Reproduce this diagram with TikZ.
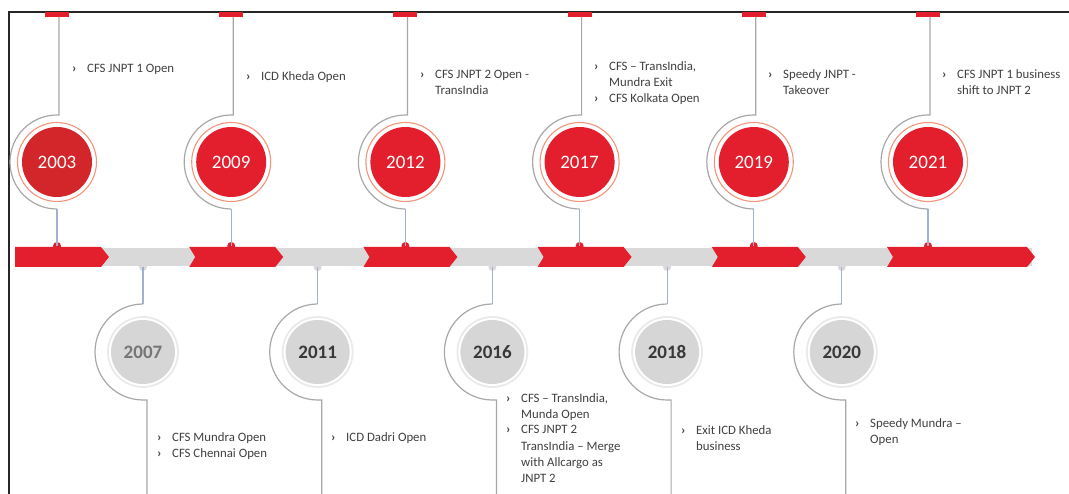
\documentclass[tikz,border=0pt]{standalone}
\usepackage{fontspec}
\setmainfont{Carlito}
\definecolor{tlred}{HTML}{E41F2D}
\definecolor{tlreddark}{HTML}{D2262A}
\definecolor{ringor}{HTML}{F2957A}
\definecolor{band}{HTML}{D9D9D9}
\definecolor{gfill}{HTML}{D6D6D6}
\definecolor{gring}{HTML}{EAEAEA}
\definecolor{arcgray}{HTML}{A8A8A8}
\definecolor{bluish}{HTML}{A3B1D0}
\definecolor{txt}{HTML}{404040}
\definecolor{yeardark}{HTML}{383838}
\definecolor{yearlight}{HTML}{757575}
\newcommand\bul{\makebox[15pt][l]{\textbf{›}}}
\newcommand\ind{\hspace*{15pt}}
\begin{document}
\begin{tikzpicture}[x=1pt,y=-1pt,
  redc/.style={circle, fill=tlred, minimum size=70pt, inner sep=0pt, text=white,
    font=\fontsize{19}{19}\selectfont},
  grayc/.style={circle, fill=gfill, minimum size=64pt, inner sep=0pt, text=yeardark,
    font=\fontsize{19}{19}\selectfont\bfseries},
  ringline/.style={draw=ringor, line width=1.1pt},
  gringline/.style={draw=gring, line width=1.8pt},
  arcline/.style={draw=arcgray, line width=1.2pt},
  conn/.style={draw=bluish, line width=1.1pt},
  desc/.style={anchor=base west, inner sep=0pt, align=left, text=txt,
    font=\fontsize{12.8}{16}\selectfont},
  redseg/.style={fill=tlred},
]
\useasboundingbox (0,0) rectangle (1069,494);
\fill[white] (0,0) rectangle (1069,494);
% frame
\draw[black!85, line width=1.3pt] (9,494) -- (9,12) -- (1069,12);
% gray band
\fill[band] (15,248) rectangle (1032,266);
% red chevrons
\fill[redseg] (15,247) -- (101,247) -- (109,257) -- (101,267) -- (15,267) -- cycle;
\foreach \X in {231.2,405.4,579.6,753.8}{
  \fill[redseg] (\X-42,247) -- (\X+44,247) -- (\X+52,257) -- (\X+44,267) -- (\X-42,267) -- (\X-36,257) -- cycle;
}
\fill[redseg] (887,247) -- (1027,247) -- (1035,257) -- (1027,267) -- (887,267) -- (893,257) -- cycle;
% upper events geometry
\foreach \X [count=\i] in {57,231.2,405.4,579.6,753.8,928}{
  \fill[tlred] (\X-12,12) rectangle (\X+12,17);
  \coordinate (ut\i) at (\X+2,17);
  \coordinate (ua\i) at (\X,115);
  \coordinate (ud\i) at (\X,209);
  \coordinate (ub\i) at (\X,246);
  \fill[tlred] (ub\i) circle[radius=4];
  \draw[arcline] (ut\i) -- (\X+2,115) -- (ua\i) arc[start angle=270, end angle=90, radius=47];
  \draw[conn] (ud\i) -- (ub\i);
  \draw[ringline] (\X,162) circle[radius=39.5];
}
\node[redc, fill=tlreddark] (u1) at (57,162) {2003};
\node[redc] (u2) at (231.2,162) {2009};
\node[redc] (u3) at (405.4,162) {2012};
\node[redc] (u4) at (579.6,162) {2017};
\node[redc] (u5) at (753.8,162) {2019};
\node[redc] (u6) at (928,162) {2021};
% lower events geometry
\foreach \X [count=\i] in {143,317.7,492.4,667.1,841.8}{
  \coordinate (lb\i) at (\X,267);
  \coordinate (la\i) at (\X,304);
  \coordinate (ld\i) at (\X+4,494);
  \fill[band] (lb\i) circle[radius=4];
  \draw[conn] (lb\i) -- (la\i);
  \draw[arcline] (la\i) arc[start angle=270, end angle=90, radius=48] -- (\X+4,400) -- (ld\i);
  \draw[gringline] (\X,352) circle[radius=35];
}
\node[grayc, text=yearlight] (l1) at (143,352) {2007};
\node[grayc] (l2) at (317.7,352) {2011};
\node[grayc] (l3) at (492.4,352) {2016};
\node[grayc] (l4) at (667.1,352) {2018};
\node[grayc] (l5) at (841.8,352) {2020};
% descriptions (anchor = baseline of the last line)
\node[desc] (t1) at (72,73) {\bul CFS JNPT 1 Open};
\node[desc] (t2) at (246,81) {\bul ICD Kheda Open};
\node[desc] (t3) at (420,95) {\bul CFS JNPT 2 Open -\\\ind TransIndia};
\node[desc] (t4) at (594,103) {\bul CFS – TransIndia,\\\ind Mundra Exit\\\bul CFS Kolkata Open};
\node[desc] (t5) at (768,95) {\bul Speedy JNPT -\\\ind Takeover};
\node[desc] (t6) at (942,95) {\bul CFS JNPT 1 business\\\ind shift to JNPT 2};
\node[desc] (b1) at (157,457) {\bul CFS Mundra Open\\\bul CFS Chennai Open};
\node[desc] (b2) at (331,441) {\bul ICD Dadri Open};
\node[desc] (b3) at (506,482) {\bul CFS – TransIndia,\\\ind Munda Open\\\bul CFS JNPT 2\\\ind TransIndia – Merge\\\ind with Allcargo as\\\ind JNPT 2};
\node[desc] (b4) at (681,450) {\bul Exit ICD Kheda\\\ind business};
\node[desc] (b5) at (855,443) {\bul Speedy Mundra –\\\ind Open};
\end{tikzpicture}
\end{document}
